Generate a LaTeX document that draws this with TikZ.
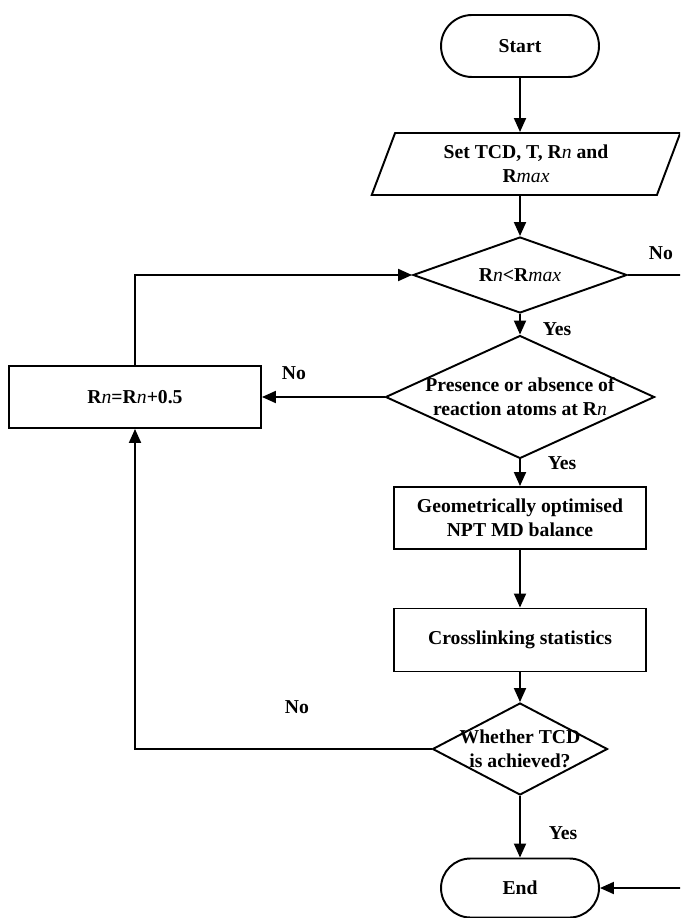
\documentclass[tikz,border=0pt]{standalone}
\usepackage{fontspec}
\setmainfont{Liberation Serif}
\usetikzlibrary{shapes.geometric,shapes.misc,arrows.meta}
\newcommand{\Rn}{R\textit{\mdseries n}}
\newcommand{\Rmax}{R\textit{\mdseries max}}
\begin{document}
\begin{tikzpicture}[x=0.02cm,y=-0.02cm,line width=1.1pt,
  every node/.style={font=\bfseries\fontsize{11.2}{13.6}\selectfont},
  term/.style={draw,rounded rectangle,minimum width=3.16cm,minimum height=1.24cm,inner sep=0pt},
  proc/.style={draw,rectangle,minimum width=5.04cm,minimum height=1.24cm,inner sep=0pt,align=center},
  decide/.style={draw,diamond,inner sep=0.5pt},
  io/.style={draw,trapezium,trapezium left angle=70,trapezium right angle=110,trapezium stretches=true,inner sep=1pt,align=center},
  flow/.style={-{Triangle[length=0.28cm,width=0.24cm]}},
  ans/.style={inner sep=0pt}]
    \clip (0,0) rectangle (680,918);
    %Start and input
    \node[term] (start) at (520,46) {Start};
    \node[io,minimum width=6.18cm,minimum height=1.24cm] (set) at (526,164) {Set TCD, T, \Rn{} and\\\Rmax};
    %Radius check
    \node[decide,minimum width=4.28cm,minimum height=1.52cm,label={center:\Rn<\Rmax}] (rcheck) at (520,275) {};
    \node[decide,minimum width=5.38cm,minimum height=2.46cm,
      label={[align=center]center:Presence or absence of\\reaction atoms at \Rn}] (atoms) at (520,397) {};
    \node[proc] (inc) at (135,397) {\Rn=\Rn+0.5};
    %MD steps
    \node[proc] (opt) at (520,518) {Geometrically optimised\\NPT MD balance};
    \node[proc,minimum height=1.26cm] (stats) at (520,640) {Crosslinking statistics};
    \node[decide,minimum width=3.5cm,minimum height=1.84cm,
      label={[align=center]center:Whether TCD\\is achieved?}] (tcd) at (520,749) {};
    \node[term,minimum height=1.18cm] (stop) at (520,888) {End};
    \coordinate (loopR) at (700,0);
    %Arrows
    \draw[flow] (start.south) -- (start.south |- set.north);
    \draw[flow] (rcheck.north |- set.south) -- (rcheck.north);
    \draw[flow] (rcheck.south) -- (atoms.north);
    \draw[flow] (atoms.west) -- (inc.east);
    \draw[flow] (inc.north) |- (rcheck.west);
    \draw[flow] (atoms.south) -- (opt.north);
    \draw[flow] (opt.south) -- (stats.north);
    \draw[flow] (stats.south) -- (tcd.north);
    \draw[flow] (tcd.south) -- (stop.north);
    \draw[flow] (tcd.west) -| (inc.south);
    \draw[flow] (rcheck.east) -- (rcheck.east -| loopR) |- (stop.east);
    %Answers
    \node[ans] (no1) at (661,253) {No};
    \node[ans] (yes1) at (557,329) {Yes};
    \node[ans] (no2) at (294,373) {No};
    \node[ans] (yes2) at (562,463) {Yes};
    \node[ans] (no3) at (297,707) {No};
    \node[ans] (yes3) at (563,833) {Yes};
\end{tikzpicture}
\end{document}
